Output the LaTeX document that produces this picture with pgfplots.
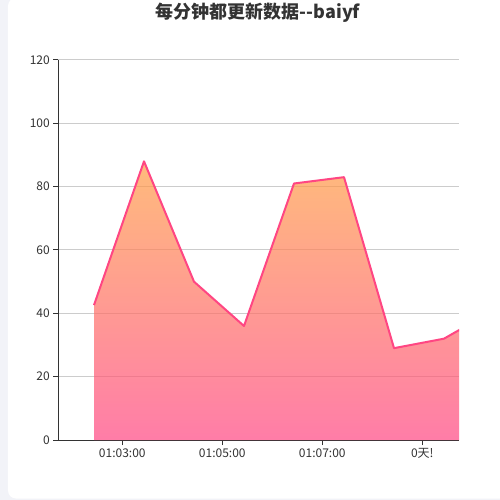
\documentclass[border=0pt]{standalone}
\usepackage{fontspec}
\setmainfont{Noto Sans CJK SC}
\usepackage{pgfplots}
\pgfplotsset{compat=1.18}
\usetikzlibrary{backgrounds}

\definecolor{bgpage}{RGB}{242,243,248}
\definecolor{txt}{RGB}{51,51,51}
\definecolor{gridc}{RGB}{204,204,204}
\definecolor{areatop}{RGB}{255,158,68}
\definecolor{areabot}{RGB}{255,70,131}

\begin{document}
\begin{tikzpicture}
  \begin{axis}[
    scale only axis,
    width=400.7pt, height=380pt,
    xmin=1.72, xmax=9.734,
    ymin=0, ymax=120,
    axis x line*=bottom,
    axis y line*=left,
    axis line style={txt, line width=1pt},
    xtick={3,5,7,9},
    xticklabels={01:03:00,01:05:00,01:07:00,0天!},
    ytick={0,20,...,120},
    tick align=outside,
    major tick length=5pt,
    tick style={txt, line width=1pt},
    ymajorgrids,
    grid style={gridc, line width=1pt},
    ticklabel style={font=\fontsize{12}{14}\selectfont, text=txt},
    /pgf/number format/assume math mode=true,
  ]
    % area under the curve (minutes after 01:00:00)
    \addplot[draw=none, top color=areatop, bottom color=areabot, fill opacity=0.7]
      coordinates {(2.434,42.6)(3.434,88)(4.434,50)(5.434,36)(6.434,81)(7.434,83)(8.434,29)(9.434,32)(10.434,41)}
      \closedcycle;
    \addplot[areabot, line width=2pt, line join=round, mark=none]
      coordinates {(2.434,42.6)(3.434,88)(4.434,50)(5.434,36)(6.434,81)(7.434,83)(8.434,29)(9.434,32)(10.434,41)};
  \end{axis}

  % page background and white card; axis box corner is at (0,0)
  \begin{pgfonlayer}{background}
    \fill[bgpage] (-58.3pt,-60pt) rectangle (441.7pt,440pt);
    \fill[white, rounded corners=8pt] (-50.3pt,-58.5pt) rectangle (460pt,442pt);
  \end{pgfonlayer}
  \node[font=\bfseries\fontsize{18}{20}\selectfont, text=txt] at (199.7pt,427pt) {每分钟都更新数据-{}-baiyf};

  \pgfresetboundingbox
  \path[use as bounding box] (-58.3pt,-60pt) rectangle (441.7pt,440pt);
\end{tikzpicture}
\end{document}
